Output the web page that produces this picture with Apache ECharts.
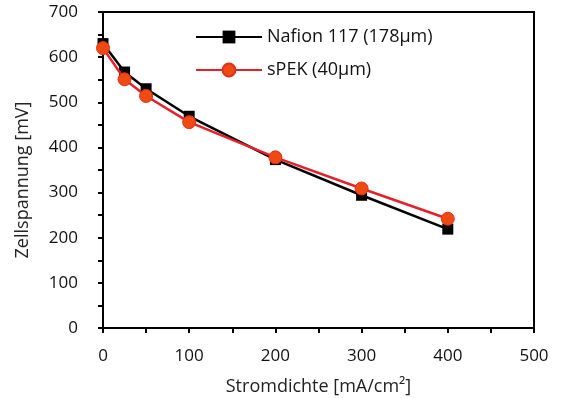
<!DOCTYPE html>
<html><head><meta charset="utf-8">
<script src="https://cdn.jsdelivr.net/npm/echarts@6/dist/echarts.min.js"></script>
<style>html,body{margin:0;padding:0;background:#fff}#c{width:563px;height:398px}</style>
</head><body><div id="c"></div>
<script>
const currents = [0, 25, 50, 100, 200, 300, 400];
const nafion = [630, 567, 530, 469, 373, 294, 219];
const spek = [620, 551, 514, 456, 378, 309, 242];
const seriesNames = ['Nafion 117 (178µm)', 'sPEK (40µm)'];
const xName = 'Stromdichte [mA/cm²]';
const yName = 'Zellspannung [mV]';

const font = '"Open Sans", "Noto Sans", sans-serif';
const chart = echarts.init(document.getElementById('c'));
chart.setOption({
  animation: false,
  grid: {left: 103, right: 29, top: 12, bottom: 70, containLabel: false, outerBoundsMode: 'none',
         show: true, borderColor: '#000', borderWidth: 2, backgroundColor: 'transparent'},
  legend: {
    left: 190, top: 23, orient: 'vertical', itemGap: 15, itemWidth: 66, itemHeight: 16,
    textStyle: {fontFamily: font, fontSize: 18, color: '#111'},
    data: seriesNames
  },
  xAxis: {
    type: 'value', min: 0, max: 500, interval: 100,
    name: xName, nameLocation: 'middle', nameGap: 50,
    nameTextStyle: {fontFamily: font, fontSize: 18, color: '#222'},
    axisLine: {lineStyle: {color: '#000', width: 2}},
    axisTick: {show: true, inside: false, length: 5, lineStyle: {color: '#000', width: 2}},
    minorTick: {show: true, splitNumber: 2, length: 5, lineStyle: {color: '#000', width: 2}},
    splitLine: {show: false},
    axisLabel: {fontFamily: font, fontSize: 17, color: '#111', margin: 20}
  },
  yAxis: {
    type: 'value', min: 0, max: 700, interval: 100,
    name: yName, nameLocation: 'middle', nameGap: 71, nameRotate: 90,
    nameTextStyle: {fontFamily: font, fontSize: 18, color: '#222', padding: [0, 20, 0, 0]},
    axisLine: {lineStyle: {color: '#000', width: 2}},
    axisTick: {show: true, inside: false, length: 5, lineStyle: {color: '#000', width: 2}},
    minorTick: {show: true, splitNumber: 2, length: 5, lineStyle: {color: '#000', width: 2}},
    splitLine: {show: false},
    axisLabel: {fontFamily: font, fontSize: 17, color: '#111', margin: 25}
  },
  series: [
    {
      name: seriesNames[0], type: 'line',
      data: currents.map((x, i) => [x, nafion[i]]),
      symbol: 'rect', symbolSize: 11,
      itemStyle: {color: '#000'},
      lineStyle: {color: '#000', width: 2.5},
      z: 2
    },
    {
      name: seriesNames[1], type: 'line',
      data: currents.map((x, i) => [x, spek[i]]),
      symbol: 'circle', symbolSize: 13,
      itemStyle: {color: '#EE4A12', borderColor: '#E0301C', borderWidth: 1},
      lineStyle: {color: '#E4202A', width: 2.5},
      z: 3
    }
  ]
});
</script></body></html>
